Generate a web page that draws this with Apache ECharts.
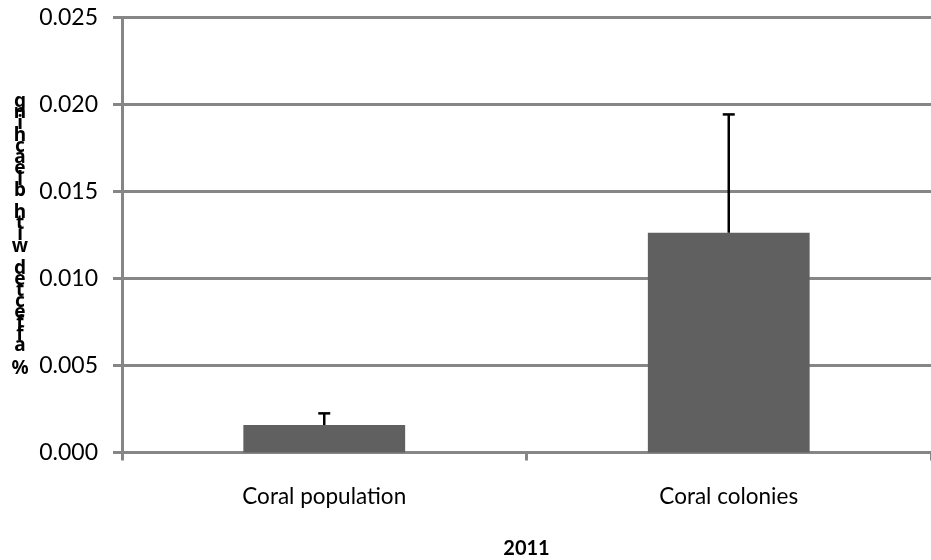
<!DOCTYPE html>
<html>
<head>
<meta charset="utf-8">
<script src="https://cdn.jsdelivr.net/npm/echarts@6/dist/echarts.min.js"></script>
<style>html,body{margin:0;padding:0;background:#fff}#c{width:931px;height:560px}</style>
</head>
<body>
<div id="c"></div>
<script>
var categories = ['Coral population', 'Coral colonies'];
var values = [0.00158, 0.01263];
var errors = [0.00067, 0.0068];
var yTicks = [0, 0.005, 0.010, 0.015, 0.020, 0.025];
var yTitle = '% affected with bleaching';
var xTitle = '2011';

var FONT = 'Lato';
var stacked = yTitle.split('').reverse().join('\n');

var chart = echarts.init(document.getElementById('c'));
chart.setOption({
  animation: false,
  grid: {left: 122, right: 0, top: 17.5, bottom: 107.5, outerBoundsMode: 'none', containLabel: false},
  xAxis: {
    type: 'category',
    data: categories,
    name: xTitle,
    nameLocation: 'middle',
    nameGap: 86,
    nameTextStyle: {fontFamily: FONT, fontWeight: 'bold', fontSize: 20, color: '#000'},
    axisLine: {lineStyle: {color: '#868686', width: 3}},
    axisTick: {show: true, length: 8, lineStyle: {color: '#868686', width: 3}},
    axisLabel: {fontFamily: FONT, fontSize: 22.5, color: '#000', margin: 33}
  },
  yAxis: {
    type: 'value',
    min: yTicks[0],
    max: yTicks[yTicks.length - 1],
    interval: yTicks[1] - yTicks[0],
    name: stacked,
    nameLocation: 'middle',
    nameRotate: 0,
    nameGap: 102,
    nameTextStyle: {fontFamily: 'Noto Sans', fontWeight: 'bold', fontSize: 19, color: '#000', lineHeight: 11.1, align: 'center', verticalAlign: 'middle'},
    axisLine: {show: true, lineStyle: {color: '#868686', width: 3}},
    axisTick: {show: true, length: 9, lineStyle: {color: '#868686', width: 3}},
    splitLine: {lineStyle: {color: '#868686', width: 3}},
    axisLabel: {fontFamily: FONT, fontSize: 23, color: '#000', margin: 24,
      formatter: function (v) { return v.toFixed(3); }}
  },
  series: [
    {
      type: 'bar',
      data: values,
      barWidth: '40%',
      itemStyle: {color: '#606060'}
    },
    {
      type: 'custom',
      data: values.map(function (v, i) { return [i, v, v + errors[i]]; }),
      z: 5,
      renderItem: function (params, api) {
        var lo = api.coord([api.value(0), api.value(1)]);
        var hi = api.coord([api.value(0), api.value(2)]);
        var cap = 6;
        return {
          type: 'group',
          children: [
            {type: 'line', shape: {x1: lo[0], y1: lo[1], x2: hi[0], y2: hi[1]}, style: {stroke: '#000', lineWidth: 2.5}},
            {type: 'line', shape: {x1: hi[0] - cap, y1: hi[1], x2: hi[0] + cap, y2: hi[1]}, style: {stroke: '#000', lineWidth: 2.5}}
          ]
        };
      }
    }
  ]
});
</script>
</body>
</html>
